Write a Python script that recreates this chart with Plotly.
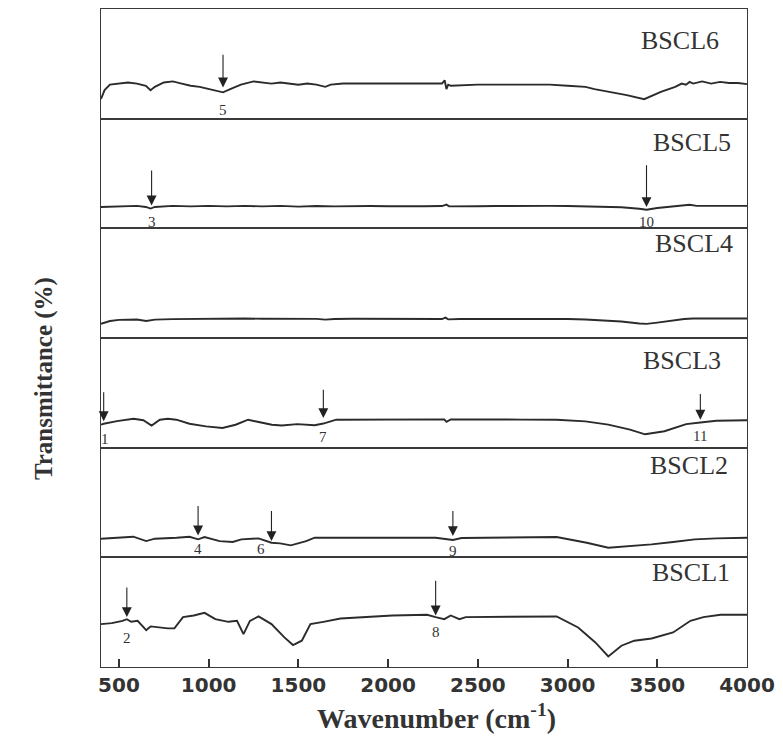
import plotly.graph_objects as go
from plotly.subplots import make_subplots

# ---------------- data (wavenumber cm-1, relative transmittance per panel 0-100) -------------
samples = ["BSCL6", "BSCL5", "BSCL4", "BSCL3", "BSCL2", "BSCL1"]

wn_bscl6 = [400, 420, 450, 500, 550, 600, 650, 676, 700, 750, 800, 850, 900, 950, 1000, 1050, 1080,
            1120, 1180, 1250, 1300, 1350, 1400, 1450, 1500, 1550, 1600, 1650, 1680, 1750, 1850, 2000,
            2150, 2300, 2315, 2325, 2335, 2350, 2500, 2700, 2900, 3000, 3100, 3150, 3250, 3330, 3427,
            3520, 3600, 3636, 3660, 3680, 3700, 3750, 3800, 3850, 3900, 3950, 4000]
t_bscl6 = [18, 26, 31, 32, 33, 32, 30, 26, 29, 33, 34, 32, 30, 29, 27, 25, 24,
           27, 31, 34, 33, 32, 33, 32, 31, 32, 31, 29, 31, 32, 32, 32,
           32, 32, 35, 27, 31, 30, 31, 31, 31, 30, 29, 27, 24, 21.5, 17.8,
           24.5, 29, 32, 31, 33.5, 32, 34, 32, 33.5, 32.5, 32.5, 31.5]

wn_bscl5 = [400, 500, 600, 650, 676, 700, 800, 900, 1000, 1100, 1200, 1300, 1400, 1500, 1600, 1700,
            1800, 1900, 2000, 2100, 2200, 2300, 2325, 2340, 2400, 2500, 2600, 2700, 2800, 2900, 3000,
            3100, 3200, 3300, 3400, 3440, 3500, 3580, 3650, 3680, 3720, 3800, 3900, 4000]
t_bscl5 = [19.5, 20, 20.5, 19.5, 18, 19.5, 20.5, 20, 20.5, 20, 20.5, 20, 20.5, 19.8, 20.3, 20,
           20.3, 20.3, 20.2, 20, 20.2, 20.3, 21.6, 20, 20.3, 20.2, 20.3, 20.5, 20.3, 20.5, 20.3,
           20, 19.8, 19.2, 17.8, 17, 18.5, 19.8, 20.5, 21.5, 20.5, 20.8, 20.5, 20.5]

wn_bscl4 = [400, 450, 500, 600, 652, 700, 800, 900, 1000, 1100, 1200, 1300, 1400, 1500, 1600, 1650,
            1700, 1800, 2000, 2200, 2300, 2320, 2335, 2400, 2600, 2800, 2900, 3000, 3100, 3200, 3300,
            3400, 3440, 3500, 3580, 3650, 3700, 3800, 3900, 4000]
t_bscl4 = [13, 15.5, 16.5, 16.8, 15.5, 16.8, 17.2, 17.5, 17.3, 17.6, 17.8, 17.5, 17.6, 17.2, 17.4, 16.8,
           17.3, 17.5, 17.4, 17.4, 17.3, 18.6, 17, 17.3, 17.4, 17.2, 17.6, 17.3, 16.8, 16.2, 15,
           13.2, 12.9, 14, 16, 17.3, 17.8, 17.8, 17.6, 17.8]

wn_bscl3 = [400, 415, 489, 581, 636, 682, 728, 773, 820, 893, 985, 1077, 1150, 1220, 1279, 1352,
            1407, 1494, 1591, 1639, 1711, 2024, 2265, 2313, 2325, 2349, 2746, 2939, 3100, 3227, 3348,
            3432, 3540, 3661, 3740, 3829, 4000]
t_bscl3 = [21, 21.8, 24.2, 26.3, 25, 20.2, 25.5, 26.3, 25.5, 21.8, 19.4, 17.9, 20.9, 25.5, 23.4, 20.9,
           20.2, 21.5, 20.5, 22, 25.5, 26, 26, 25.8, 23.5, 25.8, 25.6, 25.4, 24, 21, 16.5,
           12.2, 15, 21.5, 23, 24.5, 25]

wn_bscl2 = [400, 580, 652, 700, 821, 893, 941, 977, 1061, 1134, 1182, 1278, 1350, 1398, 1458, 1543,
            1591, 2000, 2265, 2361, 2409, 2939, 3107, 3227, 3372, 3468, 3588, 3709, 3829, 4000]
t_bscl2 = [17, 18.8, 14.8, 17, 17.9, 18.8, 16.4, 18.5, 14.8, 14, 16.4, 17.3, 13.3, 12.7, 10.9, 14.8,
           17.9, 18, 17.9, 15.8, 17.6, 18.5, 13.3, 8.8, 10.3, 11.8, 14, 16.4, 17.3, 17.9]

wn_bscl1 = [400, 460, 520, 544, 568, 604, 652, 676, 773, 809, 857, 917, 977, 1037, 1110, 1158, 1194,
            1230, 1278, 1350, 1422, 1470, 1519, 1567, 1639, 1735, 2024, 2217, 2265, 2313, 2349, 2397,
            2433, 2939, 3059, 3155, 3227, 3300, 3372, 3468, 3588, 3685, 3757, 3853, 4000]
t_bscl1 = [39.1, 40, 42.1, 43.6, 41.2, 42.1, 33.6, 37, 35.2, 35.2, 45.5, 47, 49.4, 43.6, 41.2, 42.1, 30,
           42.1, 46.1, 39.1, 27, 20, 24, 39.1, 41.2, 44.2, 47, 47.6, 45.5, 43.6, 47, 43.6,
           45.5, 46.1, 36, 22.4, 9.7, 19.4, 24, 26, 31.5, 42.1, 45.5, 47.6, 47.6]

series_wn = [wn_bscl6, wn_bscl5, wn_bscl4, wn_bscl3, wn_bscl2, wn_bscl1]
series_t = [t_bscl6, t_bscl5, t_bscl4, t_bscl3, t_bscl2, t_bscl1]

# peak markers: (panel index, label, wavenumber, arrow tail, arrow head, label y)
peak_panel = [0, 1, 1, 3, 3, 3, 4, 4, 4, 5, 5]
peak_label = ["5", "3", "10", "1", "7", "11", "4", "6", "9", "2", "8"]
peak_wn = [1080, 682, 3440, 415, 1639, 3740, 941, 1350, 2361, 544, 2265]
peak_tail = [59.6, 54.2, 58.8, 51.9, 54.2, 50.3, 48.2, 43.6, 43.6, 73.9, 80]
peak_head = [28.4, 20.9, 19.4, 24.2, 27, 25.5, 20, 14.8, 19.4, 45.5, 47]
peak_label_y = [8.3, 5.8, 5.8, 8.1, 9.7, 10.9, 7.3, 7.3, 5.8, 26, 31.5]
peak_label_wn = [1080, 682, 3440, 425, 1639, 3740, 941, 1289, 2361, 544, 2265]

xticks = [500, 1000, 1500, 2000, 2500, 3000, 3500, 4000]

# ---------------- figure -------------
fig = make_subplots(rows=6, cols=1, shared_xaxes=True, vertical_spacing=0)

LINE = "#2b2b2b"
for i in range(6):
    fig.add_trace(go.Scatter(x=series_wn[i], y=series_t[i], mode="lines",
                             line=dict(color=LINE, width=1.9), showlegend=False,
                             hoverinfo="skip"), row=i + 1, col=1)
    fig.update_yaxes(range=[0, 100], showticklabels=False, ticks="", showgrid=False,
                     zeroline=False, showline=True, mirror=True, linecolor="#3a3a3a",
                     linewidth=1.2, row=i + 1, col=1)
    fig.update_xaxes(range=[400, 4000], showgrid=False, zeroline=False, showline=True,
                     mirror=True, linecolor="#3a3a3a", linewidth=1.2, ticks="",
                     showticklabels=False, row=i + 1, col=1)

fig.update_xaxes(ticks="inside", ticklen=8, tickwidth=1.5, tickcolor="#333",
                 tickvals=xticks, ticktext=[str(v) for v in xticks], showticklabels=True,
                 tickfont=dict(family="DejaVu Sans", size=20, color="#333", weight="bold"),
                 row=6, col=1)

annotations = []
# sample labels (paper coords)
label_right = [728, 740, 742, 730, 737, 739]
label_yc = [39.5, 141.7, 243.3, 360, 465, 571.7]
L, R, T, B = 101, 754, 8.3, 666.7
for s, xr, yc in zip(samples, label_right, label_yc):
    annotations.append(dict(text=s, xref="paper", yref="paper",
                            x=(xr - L) / (R - L), y=(B - yc) / (B - T),
                            xanchor="right", yanchor="middle", showarrow=False,
                            font=dict(family="Liberation Serif", size=26, color="#333")))

for p, lab, w, ta, hd, ly, lw in zip(peak_panel, peak_label, peak_wn, peak_tail, peak_head,
                                     peak_label_y, peak_label_wn):
    n = p + 1
    xr = "x" if n == 1 else f"x{n}"
    yr = "y" if n == 1 else f"y{n}"
    annotations.append(dict(x=w, y=hd, ax=w, ay=ta, xref=xr, yref=yr, axref=xr, ayref=yr,
                            text="", showarrow=True, arrowhead=2, arrowsize=1.8,
                            arrowwidth=1.1, arrowcolor="#222"))
    annotations.append(dict(x=lw, y=ly, xref=xr, yref=yr, text=lab, showarrow=False,
                            xanchor="center", yanchor="middle",
                            font=dict(family="Liberation Serif", size=15, color="#333")))

annotations.append(dict(text="Wavenumber (cm<sup>-1</sup>)", xref="paper", yref="paper",
                        x=(440 - L) / (R - L), y=(B - 716) / (B - T), xanchor="center",
                        yanchor="middle", showarrow=False,
                        font=dict(family="Liberation Serif", size=28, color="#333", weight="bold")))
annotations.append(dict(text="Transmittance (%)", xref="paper", yref="paper",
                        x=(44 - L) / (R - L), y=(B - 378) / (B - T), xanchor="center",
                        yanchor="middle", showarrow=False, textangle=-90,
                        font=dict(family="Liberation Serif", size=25, color="#333", weight="bold")))

fig.update_layout(width=783, height=740, plot_bgcolor="white", paper_bgcolor="white",
                  margin=dict(l=L, r=783 - R, t=T, b=740 - B, pad=0),
                  annotations=annotations, showlegend=False)

fig.write_html("out.html")
